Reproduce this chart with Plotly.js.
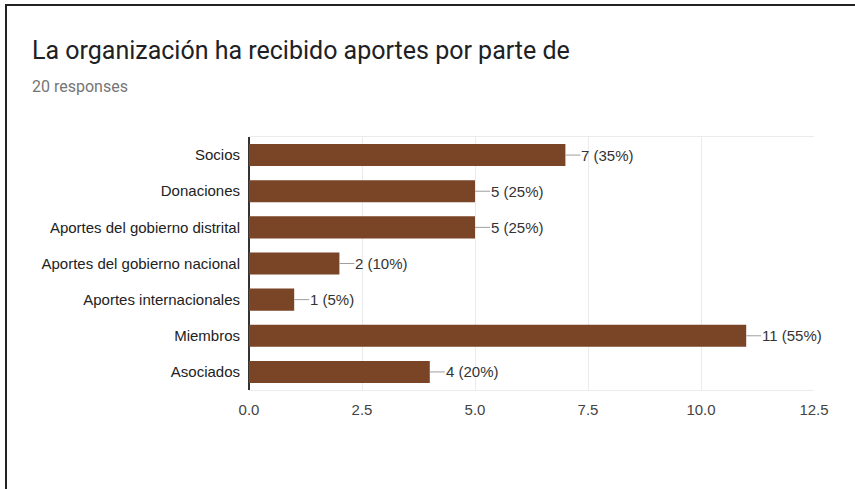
<!DOCTYPE html>
<html>
<head>
<meta charset="utf-8">
<script src="https://cdn.plot.ly/plotly-3.0.1.min.js"></script>
<style>
html,body{margin:0;padding:0;background:#fff;}
#wrap{position:relative;width:855px;height:489px;overflow:hidden;}
#frame{position:absolute;left:5px;top:4px;width:900px;height:600px;border-top:2px solid #222;border-left:2px solid #222;pointer-events:none;z-index:5;}
#chart{position:absolute;left:0;top:0;width:855px;height:489px;}
</style>
</head>
<body>
<div id="wrap"><div id="chart"></div><div id="frame"></div></div>
<script>
const titleText = "La organización ha recibido aportes por parte de";
const subtitleText = "20 responses";
const categories = ["Socios","Donaciones","Aportes del gobierno distrital","Aportes del gobierno nacional","Aportes internacionales","Miembros","Asociados"];
const counts = [7,5,5,2,1,11,4];
const totalResponses = 20;
const xTicks = [0,2.5,5,7.5,10,12.5];

const barColor = "#7a4526";

const annotations = counts.map((v,i)=>({
  x: v, y: categories[i], xref:'x', yref:'y',
  text: v + " (" + Math.round(v/totalResponses*100) + "%)",
  showarrow: true, arrowhead: 0, arrowwidth: 1, arrowcolor: '#9e9e9e',
  ax: 15, ay: 0, xanchor: 'left', standoff: 0, startstandoff: 0,
  borderpad: 0, font: {family: 'Liberation Sans, Arial, sans-serif', size: 15, color: '#333'}
}));
annotations.push({
  xref:'paper', yref:'paper', x: (30-249)/565, y: 1 + (137-50)/253,
  xanchor:'left', yanchor:'middle', showarrow:false, text: titleText,
  font:{family:'Roboto, sans-serif', size:25, color:'#202124'}
});
annotations.push({
  xref:'paper', yref:'paper', x: (30-249)/565, y: 1 + (137-86)/253,
  xanchor:'left', yanchor:'middle', showarrow:false, text: subtitleText,
  font:{family:'Roboto, sans-serif', size:16, color:'#757575'}
});

const data = [{
  type:'bar', orientation:'h', x: counts, y: categories,
  marker:{color: barColor}, hoverinfo:'none'
}];

const layout = {
  width:855, height:489,
  margin:{l:249, r:41, t:137, b:99},
  paper_bgcolor:'#fff', plot_bgcolor:'#fff',
  showlegend:false, bargap:0.39,
  font:{family:'Liberation Sans, Arial, sans-serif', size:15, color:'#222'},
  xaxis:{
    range:[0,12.5], tickvals: xTicks, ticktext: xTicks.map(t=>t.toFixed(1)),
    showgrid:true, gridcolor:'#ebebeb', gridwidth:1,
    zeroline:true, zerolinecolor:'#333', zerolinewidth:1.5,
    showline:true, linecolor:'#ebebeb', linewidth:1, mirror:true,
    ticks:'', ticklen:0, ticklabelstandoff:6, tickfont:{size:15, color:'#444'}, automargin:false
  },
  yaxis:{
    autorange:'reversed', showgrid:false, zeroline:false,
    showline:false, ticks:'', ticklen:0, ticklabelstandoff:8,
    tickfont:{size:15, color:'#222'}, automargin:false
  },
  annotations: annotations
};

Plotly.newPlot('chart', data, layout, {staticPlot:true, displayModeBar:false});
</script>
</body>
</html>
